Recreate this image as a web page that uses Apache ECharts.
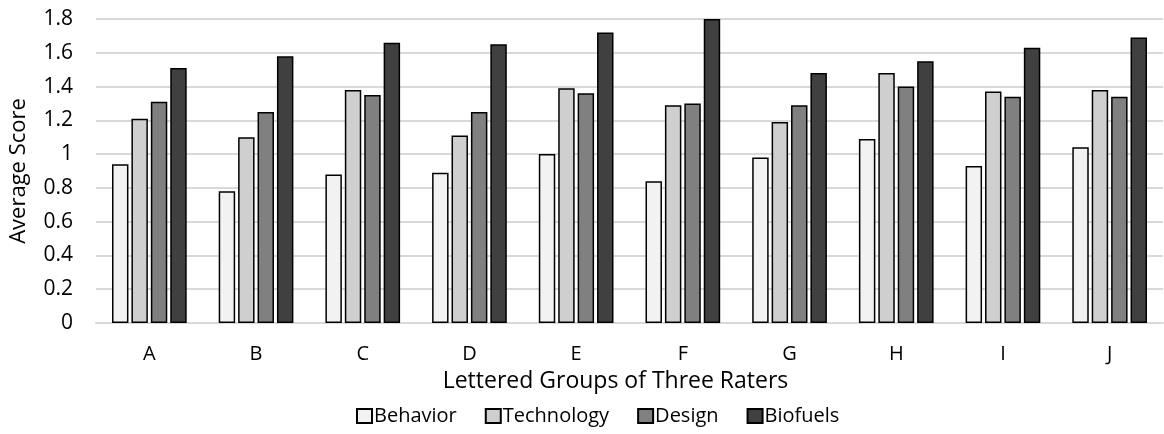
<!DOCTYPE html>
<html><head><meta charset="utf-8">
<script src="https://cdn.jsdelivr.net/npm/echarts@6/dist/echarts.min.js"></script>
<style>html,body{margin:0;padding:0;background:#fff}#c{width:1164px;height:434px}</style>
</head><body><div id="c"></div>
<script>
const categories = ['A','B','C','D','E','F','G','H','I','J'];
const behavior   = [0.94,0.78,0.88,0.89,1.00,0.84,0.98,1.09,0.93,1.04];
const technology = [1.21,1.10,1.38,1.11,1.39,1.29,1.19,1.48,1.37,1.38];
const design     = [1.31,1.25,1.35,1.25,1.36,1.30,1.29,1.40,1.34,1.34];
const biofuels   = [1.51,1.58,1.66,1.65,1.72,1.80,1.48,1.55,1.63,1.69];
const seriesNames = ['Behavior','Technology','Design','Biofuels'];
const colors = ['#f2f2f2','#cfcfcf','#808080','#404040'];
const FONT = 'Open Sans';
const chart = echarts.init(document.getElementById('c'));
const data = [behavior, technology, design, biofuels];
chart.setOption({
  animation:false,
  textStyle:{fontFamily:FONT,color:'#000'},
  grid:{left:95,right:1,top:19,bottom:111},
  legend:{
    bottom:3,left:351,itemWidth:15,itemHeight:14,itemGap:28,icon:'rect',
    textStyle:{fontFamily:FONT,fontSize:20,color:'#000',padding:[0,0,0,-3]},
    data:seriesNames
  },
  xAxis:{
    type:'category',data:categories,
    name:'Lettered Groups of Three Raters',nameLocation:'middle',nameGap:47,
    nameTextStyle:{fontFamily:FONT,fontSize:23,color:'#000',padding:[0,28,0,0]},
    axisLine:{lineStyle:{color:'#d9d9d9',width:2}},
    axisTick:{show:false},
    axisLabel:{fontFamily:FONT,fontSize:20,color:'#000',margin:21}
  },
  yAxis:{
    type:'value',min:0,max:1.8,interval:0.2,
    name:'Average Score',nameLocation:'middle',nameGap:66,
    nameTextStyle:{fontFamily:FONT,fontSize:22,color:'#000'},
    axisLine:{show:false},axisTick:{show:false},
    axisLabel:{fontFamily:FONT,fontSize:21,color:'#000',margin:23},
    splitLine:{lineStyle:{color:'#d9d9d9',width:2}}
  },
  series: seriesNames.map((n,i)=>({
    name:n,type:'bar',data:data[i],
    barGap:'18%',barCategoryGap:'30%',
    itemStyle:{color:colors[i],borderColor:'#000',borderWidth:1.5}
  }))
});
</script></body></html>
